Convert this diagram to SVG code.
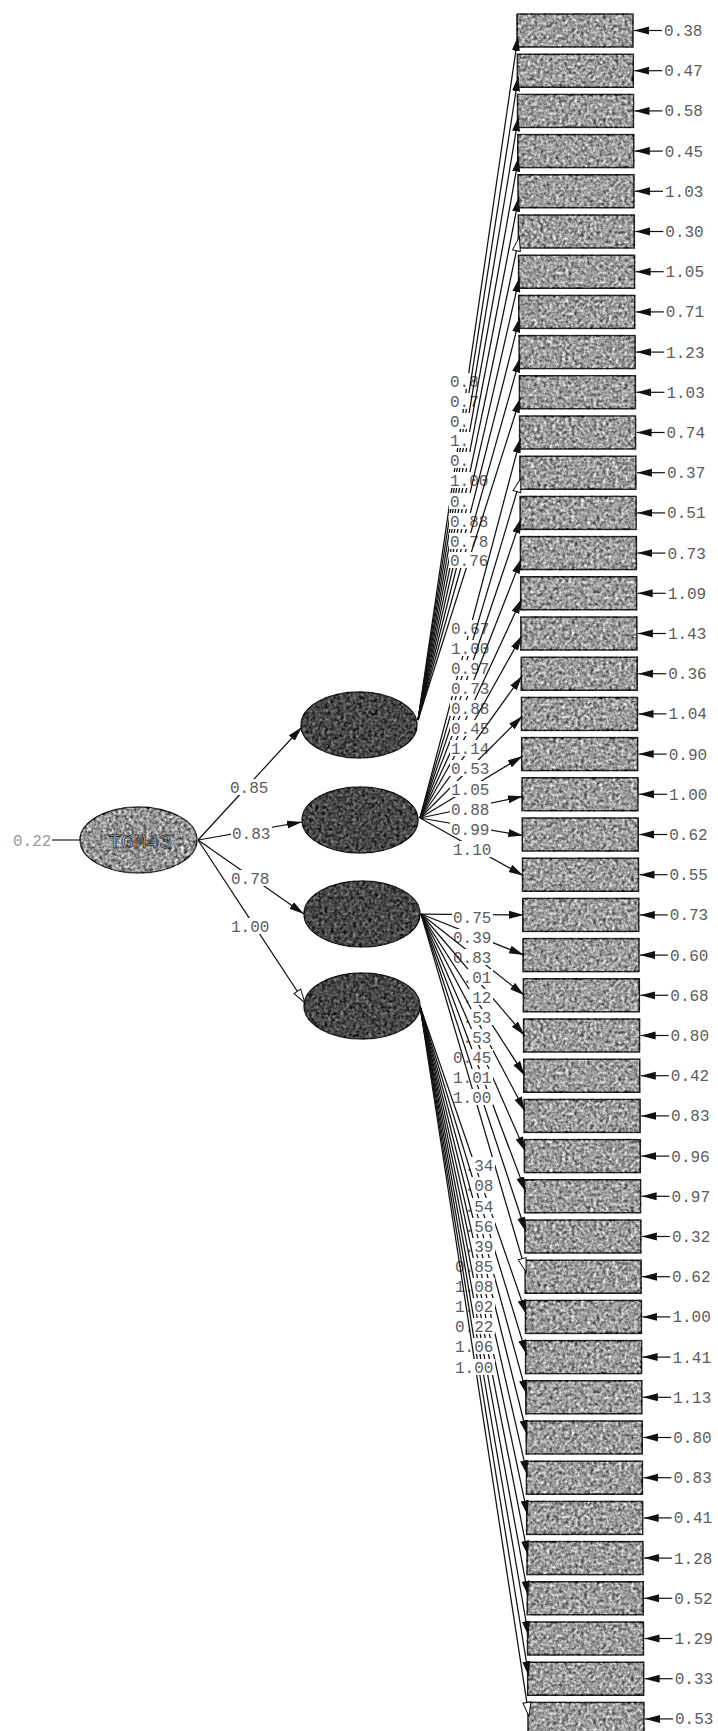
<svg xmlns="http://www.w3.org/2000/svg" width="718" height="1731" viewBox="0 0 718 1731">
<style>
.box{fill:#9c9c9c;stroke:#1e1e1e;stroke-width:1.6;filter:url(#grain)}
.lat{fill:#474747;stroke:#1a1a1a;stroke-width:1.5;filter:url(#grain)}
.top{fill:#959595;stroke:#2a2a2a;stroke-width:1.5;filter:url(#grain)}
.ln{stroke:#111;stroke-width:1.25;fill:none;marker-end:url(#ah)}
.lh{stroke:#111;stroke-width:1.25;fill:none;marker-end:url(#ahh)}
.er{stroke:#111;stroke-width:1.2;fill:none;marker-end:url(#ah)}
.bg{fill:#fff}
.lbl{font-family:"Liberation Mono",monospace;font-size:16px;fill:#5c5c5c}
.elbl{font-family:"Liberation Mono",monospace;font-size:16px;fill:#5c5c5c}
.tg{font-family:"Liberation Mono",monospace;font-size:21px;fill:#eeeeee;stroke:#2a2a2a;stroke-width:0.9;text-anchor:middle}
</style>
<defs>
<filter id="grain" x="-0.05" y="-0.1" width="1.1" height="1.2" color-interpolation-filters="sRGB">
<feTurbulence type="fractalNoise" baseFrequency="0.32" numOctaves="3" seed="4" result="n"/>
<feColorMatrix in="n" type="matrix" values="0.5 0.5 0 0 0 0.5 0.5 0 0 0 0.5 0.5 0 0 0 0 0 0 0 1" result="g"/>
<feComponentTransfer in="g" result="c"><feFuncR type="linear" slope="1.9" intercept="-0.45"/><feFuncG type="linear" slope="1.9" intercept="-0.45"/><feFuncB type="linear" slope="1.9" intercept="-0.45"/></feComponentTransfer>
<feBlend in="c" in2="SourceGraphic" mode="overlay" result="b"/>
<feComposite in="b" in2="SourceGraphic" operator="in"/>
</filter>
<marker id="ah" markerUnits="userSpaceOnUse" markerWidth="16" markerHeight="10" refX="15" refY="4.5" orient="auto"><path d="M0,0.5 L15,4.5 L0,8.5 z" fill="#111"/></marker>
<marker id="ahh" markerUnits="userSpaceOnUse" markerWidth="17" markerHeight="11" refX="15" refY="5" orient="auto"><path d="M1,1 L15,5 L1,9 z" fill="#fff" stroke="#111" stroke-width="1"/></marker>
</defs>

<g id="TGM43"><ellipse class="top" cx="138.5" cy="840" rx="58.5" ry="33"/><text class="tg" x="140" y="847.5">TGM43</text></g>
<g id="F1"><ellipse class="lat" cx="359" cy="725" rx="58" ry="33"/></g>
<g id="F2"><ellipse class="lat" cx="360" cy="820" rx="58" ry="33"/></g>
<g id="F3"><ellipse class="lat" cx="362" cy="914" rx="58" ry="33"/></g>
<g id="F4"><ellipse class="lat" cx="362" cy="1006" rx="58" ry="33"/></g>

<g id="x1"><rect class="box" x="517.0" y="14.0" width="116" height="33"/></g>
<g id="x2"><rect class="box" x="517.3" y="54.2" width="116" height="33"/></g>
<g id="x3"><rect class="box" x="517.5" y="94.4" width="116" height="33"/></g>
<g id="x4"><rect class="box" x="517.8" y="134.6" width="116" height="33"/></g>
<g id="x5"><rect class="box" x="518.0" y="174.8" width="116" height="33"/></g>
<g id="x6"><rect class="box" x="518.3" y="215.0" width="116" height="33"/></g>
<g id="x7"><rect class="box" x="518.6" y="255.2" width="116" height="33"/></g>
<g id="x8"><rect class="box" x="518.8" y="295.4" width="116" height="33"/></g>
<g id="x9"><rect class="box" x="519.1" y="335.6" width="116" height="33"/></g>
<g id="x10"><rect class="box" x="519.4" y="375.8" width="116" height="33"/></g>
<g id="x11"><rect class="box" x="519.6" y="416.0" width="116" height="33"/></g>
<g id="x12"><rect class="box" x="519.9" y="456.2" width="116" height="33"/></g>
<g id="x13"><rect class="box" x="520.1" y="496.4" width="116" height="33"/></g>
<g id="x14"><rect class="box" x="520.4" y="536.6" width="116" height="33"/></g>
<g id="x15"><rect class="box" x="520.7" y="576.8" width="116" height="33"/></g>
<g id="x16"><rect class="box" x="520.9" y="617.0" width="116" height="33"/></g>
<g id="x17"><rect class="box" x="521.2" y="657.2" width="116" height="33"/></g>
<g id="x18"><rect class="box" x="521.5" y="697.4" width="116" height="33"/></g>
<g id="x19"><rect class="box" x="521.7" y="737.6" width="116" height="33"/></g>
<g id="x20"><rect class="box" x="522.0" y="777.8" width="116" height="33"/></g>
<g id="x21"><rect class="box" x="522.2" y="818.0" width="116" height="33"/></g>
<g id="x22"><rect class="box" x="522.5" y="858.2" width="116" height="33"/></g>
<g id="x23"><rect class="box" x="522.8" y="898.4" width="116" height="33"/></g>
<g id="x24"><rect class="box" x="523.0" y="938.6" width="116" height="33"/></g>
<g id="x25"><rect class="box" x="523.3" y="978.8" width="116" height="33"/></g>
<g id="x26"><rect class="box" x="523.6" y="1019.0" width="116" height="33"/></g>
<g id="x27"><rect class="box" x="523.8" y="1059.2" width="116" height="33"/></g>
<g id="x28"><rect class="box" x="524.1" y="1099.4" width="116" height="33"/></g>
<g id="x29"><rect class="box" x="524.3" y="1139.6" width="116" height="33"/></g>
<g id="x30"><rect class="box" x="524.6" y="1179.8" width="116" height="33"/></g>
<g id="x31"><rect class="box" x="524.9" y="1220.0" width="116" height="33"/></g>
<g id="x32"><rect class="box" x="525.1" y="1260.2" width="116" height="33"/></g>
<g id="x33"><rect class="box" x="525.4" y="1300.4" width="116" height="33"/></g>
<g id="x34"><rect class="box" x="525.6" y="1340.6" width="116" height="33"/></g>
<g id="x35"><rect class="box" x="525.9" y="1380.8" width="116" height="33"/></g>
<g id="x36"><rect class="box" x="526.2" y="1421.0" width="116" height="33"/></g>
<g id="x37"><rect class="box" x="526.4" y="1461.2" width="116" height="33"/></g>
<g id="x38"><rect class="box" x="526.7" y="1501.4" width="116" height="33"/></g>
<g id="x39"><rect class="box" x="527.0" y="1541.6" width="116" height="33"/></g>
<g id="x40"><rect class="box" x="527.2" y="1581.8" width="116" height="33"/></g>
<g id="x41"><rect class="box" x="527.5" y="1622.0" width="116" height="33"/></g>
<g id="x42"><rect class="box" x="527.7" y="1662.2" width="116" height="33"/></g>
<g id="x43"><rect class="box" x="528.0" y="1702.4" width="116" height="33"/></g>

<g id="connectors">
<!-- second-order paths -->
<line x1="52" y1="840" x2="80" y2="840" stroke="#222" stroke-width="1.2"/>
<text x="13" y="845.5" style="font-family:'Liberation Mono',monospace;font-size:16px;fill:#999">0.22</text>
<line class="ln" x1="198" y1="840" x2="302" y2="727"/><rect class="bg" x="229" y="779" width="41" height="16"/><text class="lbl" x="230" y="792.5">0.85</text>
<line class="ln" x1="198" y1="840" x2="302" y2="822"/><rect class="bg" x="231" y="825" width="41" height="16"/><text class="lbl" x="232" y="838.5">0.83</text>
<line class="ln" x1="198" y1="840" x2="304" y2="914"/><rect class="bg" x="230" y="870" width="41" height="16"/><text class="lbl" x="231" y="883.5">0.78</text>
<line class="lh" x1="198" y1="840" x2="305" y2="1003"/><rect class="bg" x="230" y="918" width="41" height="16"/><text class="lbl" x="231" y="931.5">1.00</text>

<!-- factor 1 -->
<line class="ln" x1="418" y1="720" x2="518" y2="36"/><rect class="bg" x="449" y="373" width="41" height="16"/><text class="lbl" x="450" y="386.5">0.8</text>
<line class="ln" x1="418" y1="720" x2="518.3" y2="76.2"/><rect class="bg" x="449" y="393" width="41" height="16"/><text class="lbl" x="450" y="406.5">0.7</text>
<line class="ln" x1="418" y1="720" x2="518.5" y2="116.4"/><rect class="bg" x="449" y="413" width="41" height="16"/><text class="lbl" x="450" y="426.5">0.</text>
<line class="ln" x1="418" y1="720" x2="518.8" y2="156.6"/><rect class="bg" x="449" y="432" width="41" height="16"/><text class="lbl" x="450" y="445.5">1.</text>
<line class="ln" x1="418" y1="720" x2="519" y2="196.8"/><rect class="bg" x="449" y="452" width="41" height="16"/><text class="lbl" x="450" y="465.5">0.</text>
<line class="lh" x1="418" y1="720" x2="519.3" y2="237"/><rect class="bg" x="449" y="472" width="41" height="16"/><text class="lbl" x="450" y="485.5">1.00</text>
<line class="ln" x1="418" y1="720" x2="519.6" y2="277.2"/><rect class="bg" x="449" y="493" width="41" height="16"/><text class="lbl" x="450" y="506.5">0.</text>
<line class="ln" x1="418" y1="720" x2="519.8" y2="317.4"/><rect class="bg" x="449" y="513" width="41" height="16"/><text class="lbl" x="450" y="526.5">0.88</text>
<line class="ln" x1="418" y1="720" x2="520.1" y2="357.6"/><rect class="bg" x="449" y="533" width="41" height="16"/><text class="lbl" x="450" y="546.5">0.78</text>
<line class="ln" x1="418" y1="720" x2="520.4" y2="397.8"/><rect class="bg" x="449" y="552" width="41" height="16"/><text class="lbl" x="450" y="565.5">0.76</text>

<!-- factor 2 -->
<line class="ln" x1="420" y1="818" x2="520.6" y2="438"/><rect class="bg" x="450" y="620" width="41" height="16"/><text class="lbl" x="451" y="633.5">0.67</text>
<line class="lh" x1="420" y1="818" x2="520.9" y2="478.2"/><rect class="bg" x="450" y="640" width="41" height="16"/><text class="lbl" x="451" y="653.5">1.00</text>
<line class="ln" x1="420" y1="818" x2="521.1" y2="518.4"/><rect class="bg" x="450" y="660" width="41" height="16"/><text class="lbl" x="451" y="673.5">0.97</text>
<line class="ln" x1="420" y1="818" x2="521.4" y2="558.6"/><rect class="bg" x="450" y="680" width="41" height="16"/><text class="lbl" x="451" y="693.5">0.73</text>
<line class="ln" x1="420" y1="818" x2="521.7" y2="598.8"/><rect class="bg" x="450" y="700" width="41" height="16"/><text class="lbl" x="451" y="713.5">0.88</text>
<line class="ln" x1="420" y1="818" x2="521.9" y2="635.5"/><rect class="bg" x="450" y="720" width="41" height="16"/><text class="lbl" x="451" y="733.5">0.45</text>
<line class="ln" x1="420" y1="818" x2="522.2" y2="675.7"/><rect class="bg" x="450" y="740" width="41" height="16"/><text class="lbl" x="451" y="753.5">1.14</text>
<line class="ln" x1="420" y1="818" x2="522.5" y2="715.9"/><rect class="bg" x="450" y="760" width="41" height="16"/><text class="lbl" x="451" y="773.5">0.53</text>
<line class="ln" x1="420" y1="818" x2="522.7" y2="756.1"/><rect class="bg" x="450" y="781" width="41" height="16"/><text class="lbl" x="451" y="794.5">1.05</text>
<line class="ln" x1="420" y1="818" x2="523" y2="796.3"/><rect class="bg" x="450" y="801" width="41" height="16"/><text class="lbl" x="451" y="814.5">0.88</text>
<line class="ln" x1="420" y1="818" x2="523.2" y2="835.5"/><rect class="bg" x="450" y="821" width="41" height="16"/><text class="lbl" x="451" y="834.5">0.99</text>
<line class="ln" x1="420" y1="818" x2="523.5" y2="875.7"/><rect class="bg" x="452" y="841" width="41" height="16"/><text class="lbl" x="453" y="854.5">1.10</text>

<!-- factor 3 -->
<line class="ln" x1="421" y1="914" x2="523.8" y2="914.9"/><rect class="bg" x="452" y="909" width="41" height="16"/><text class="lbl" x="453" y="922.5">0.75</text>
<line class="ln" x1="421" y1="914" x2="524" y2="955.1"/><rect class="bg" x="452" y="929" width="41" height="16"/><text class="lbl" x="453" y="942.5">0.39</text>
<line class="ln" x1="421" y1="914" x2="524.3" y2="995.3"/><rect class="bg" x="452" y="949" width="41" height="16"/><text class="lbl" x="453" y="962.5">0.83</text>
<line class="ln" x1="421" y1="914" x2="524.6" y2="1035.5"/><rect class="bg" x="452" y="969" width="41" height="16"/><text class="lbl" x="462.6" y="982.5">.01</text>
<line class="ln" x1="421" y1="914" x2="524.8" y2="1075.7"/><rect class="bg" x="452" y="989" width="41" height="16"/><text class="lbl" x="462.6" y="1002.5">.12</text>
<line class="ln" x1="421" y1="914" x2="525.1" y2="1111.4"/><rect class="bg" x="452" y="1009" width="41" height="16"/><text class="lbl" x="462.6" y="1022.5">.53</text>
<line class="ln" x1="421" y1="914" x2="525.3" y2="1151.6"/><rect class="bg" x="452" y="1029" width="41" height="16"/><text class="lbl" x="462.6" y="1042.5">.53</text>
<line class="ln" x1="421" y1="914" x2="525.6" y2="1191.8"/><rect class="bg" x="452" y="1049" width="41" height="16"/><text class="lbl" x="453" y="1062.5">0.45</text>
<line class="ln" x1="421" y1="914" x2="525.9" y2="1232"/><rect class="bg" x="452" y="1069" width="41" height="16"/><text class="lbl" x="453" y="1082.5">1.01</text>
<line class="lh" x1="421" y1="914" x2="526.1" y2="1272.2"/><rect class="bg" x="452" y="1089" width="41" height="16"/><text class="lbl" x="453" y="1102.5">1.00</text>

<!-- factor 4 -->
<line class="ln" x1="420" y1="1006" x2="526.4" y2="1314.4"/><rect class="bg" x="454" y="1157" width="41" height="16"/><text class="lbl" x="464.6" y="1170.5">.34</text>
<line class="ln" x1="420" y1="1006" x2="526.6" y2="1354.6"/><rect class="bg" x="454" y="1177" width="41" height="16"/><text class="lbl" x="464.6" y="1190.5">.08</text>
<line class="ln" x1="420" y1="1006" x2="526.9" y2="1394.8"/><rect class="bg" x="454" y="1198" width="41" height="16"/><text class="lbl" x="464.6" y="1211.5">.54</text>
<line class="ln" x1="420" y1="1006" x2="527.2" y2="1435"/><rect class="bg" x="454" y="1218" width="41" height="16"/><text class="lbl" x="464.6" y="1231.5">.56</text>
<line class="ln" x1="420" y1="1006" x2="527.4" y2="1475.2"/><rect class="bg" x="454" y="1238" width="41" height="16"/><text class="lbl" x="464.6" y="1251.5">.39</text>
<line class="ln" x1="420" y1="1006" x2="527.7" y2="1515.4"/><rect class="bg" x="454" y="1258" width="41" height="16"/><text class="lbl" x="455" y="1271.5">0.85</text>
<line class="ln" x1="420" y1="1006" x2="528" y2="1555.6"/><rect class="bg" x="454" y="1278" width="41" height="16"/><text class="lbl" x="455" y="1291.5">1.08</text>
<line class="ln" x1="420" y1="1006" x2="528.2" y2="1595.8"/><rect class="bg" x="454" y="1298" width="41" height="16"/><text class="lbl" x="455" y="1311.5">1.02</text>
<line class="ln" x1="420" y1="1006" x2="528.5" y2="1636"/><rect class="bg" x="454" y="1318" width="41" height="16"/><text class="lbl" x="455" y="1331.5">0.22</text>
<line class="ln" x1="420" y1="1006" x2="528.7" y2="1676.2"/><rect class="bg" x="454" y="1338" width="41" height="16"/><text class="lbl" x="455" y="1351.5">1.06</text>
<line class="lh" x1="420" y1="1006" x2="529" y2="1716.4"/><rect class="bg" x="454" y="1359" width="41" height="16"/><text class="lbl" x="455" y="1372.5">1.00</text>

<!-- error terms -->
<line class="er" x1="662.0" y1="30.5" x2="634.0" y2="30.5"/><text class="elbl" x="664.0" y="36.0">0.38</text>
<line class="er" x1="662.3" y1="70.7" x2="634.3" y2="70.7"/><text class="elbl" x="664.3" y="76.2">0.47</text>
<line class="er" x1="662.5" y1="110.9" x2="634.5" y2="110.9"/><text class="elbl" x="664.5" y="116.4">0.58</text>
<line class="er" x1="662.8" y1="151.1" x2="634.8" y2="151.1"/><text class="elbl" x="664.8" y="156.6">0.45</text>
<line class="er" x1="663.0" y1="191.3" x2="635.0" y2="191.3"/><text class="elbl" x="665.0" y="196.8">1.03</text>
<line class="er" x1="663.3" y1="231.5" x2="635.3" y2="231.5"/><text class="elbl" x="665.3" y="237.0">0.30</text>
<line class="er" x1="663.6" y1="271.7" x2="635.6" y2="271.7"/><text class="elbl" x="665.6" y="277.2">1.05</text>
<line class="er" x1="663.8" y1="311.9" x2="635.8" y2="311.9"/><text class="elbl" x="665.8" y="317.4">0.71</text>
<line class="er" x1="664.1" y1="352.1" x2="636.1" y2="352.1"/><text class="elbl" x="666.1" y="357.6">1.23</text>
<line class="er" x1="664.4" y1="392.3" x2="636.4" y2="392.3"/><text class="elbl" x="666.4" y="397.8">1.03</text>
<line class="er" x1="664.6" y1="432.5" x2="636.6" y2="432.5"/><text class="elbl" x="666.6" y="438.0">0.74</text>
<line class="er" x1="664.9" y1="472.7" x2="636.9" y2="472.7"/><text class="elbl" x="666.9" y="478.2">0.37</text>
<line class="er" x1="665.1" y1="512.9" x2="637.1" y2="512.9"/><text class="elbl" x="667.1" y="518.4">0.51</text>
<line class="er" x1="665.4" y1="553.1" x2="637.4" y2="553.1"/><text class="elbl" x="667.4" y="558.6">0.73</text>
<line class="er" x1="665.7" y1="593.3" x2="637.7" y2="593.3"/><text class="elbl" x="667.7" y="598.8">1.09</text>
<line class="er" x1="665.9" y1="633.5" x2="637.9" y2="633.5"/><text class="elbl" x="667.9" y="639.0">1.43</text>
<line class="er" x1="666.2" y1="673.7" x2="638.2" y2="673.7"/><text class="elbl" x="668.2" y="679.2">0.36</text>
<line class="er" x1="666.5" y1="713.9" x2="638.5" y2="713.9"/><text class="elbl" x="668.5" y="719.4">1.04</text>
<line class="er" x1="666.7" y1="754.1" x2="638.7" y2="754.1"/><text class="elbl" x="668.7" y="759.6">0.90</text>
<line class="er" x1="667.0" y1="794.3" x2="639.0" y2="794.3"/><text class="elbl" x="669.0" y="799.8">1.00</text>
<line class="er" x1="667.2" y1="834.5" x2="639.2" y2="834.5"/><text class="elbl" x="669.2" y="840.0">0.62</text>
<line class="er" x1="667.5" y1="874.7" x2="639.5" y2="874.7"/><text class="elbl" x="669.5" y="880.2">0.55</text>
<line class="er" x1="667.8" y1="914.9" x2="639.8" y2="914.9"/><text class="elbl" x="669.8" y="920.4">0.73</text>
<line class="er" x1="668.0" y1="955.1" x2="640.0" y2="955.1"/><text class="elbl" x="670.0" y="960.6">0.60</text>
<line class="er" x1="668.3" y1="995.3" x2="640.3" y2="995.3"/><text class="elbl" x="670.3" y="1000.8">0.68</text>
<line class="er" x1="668.6" y1="1035.5" x2="640.6" y2="1035.5"/><text class="elbl" x="670.6" y="1041.0">0.80</text>
<line class="er" x1="668.8" y1="1075.7" x2="640.8" y2="1075.7"/><text class="elbl" x="670.8" y="1081.2">0.42</text>
<line class="er" x1="669.1" y1="1115.9" x2="641.1" y2="1115.9"/><text class="elbl" x="671.1" y="1121.4">0.83</text>
<line class="er" x1="669.3" y1="1156.1" x2="641.3" y2="1156.1"/><text class="elbl" x="671.3" y="1161.6">0.96</text>
<line class="er" x1="669.6" y1="1196.3" x2="641.6" y2="1196.3"/><text class="elbl" x="671.6" y="1201.8">0.97</text>
<line class="er" x1="669.9" y1="1236.5" x2="641.9" y2="1236.5"/><text class="elbl" x="671.9" y="1242.0">0.32</text>
<line class="er" x1="670.1" y1="1276.7" x2="642.1" y2="1276.7"/><text class="elbl" x="672.1" y="1282.2">0.62</text>
<line class="er" x1="670.4" y1="1316.9" x2="642.4" y2="1316.9"/><text class="elbl" x="672.4" y="1322.4">1.00</text>
<line class="er" x1="670.6" y1="1357.1" x2="642.6" y2="1357.1"/><text class="elbl" x="672.6" y="1362.6">1.41</text>
<line class="er" x1="670.9" y1="1397.3" x2="642.9" y2="1397.3"/><text class="elbl" x="672.9" y="1402.8">1.13</text>
<line class="er" x1="671.2" y1="1437.5" x2="643.2" y2="1437.5"/><text class="elbl" x="673.2" y="1443.0">0.80</text>
<line class="er" x1="671.4" y1="1477.7" x2="643.4" y2="1477.7"/><text class="elbl" x="673.4" y="1483.2">0.83</text>
<line class="er" x1="671.7" y1="1517.9" x2="643.7" y2="1517.9"/><text class="elbl" x="673.7" y="1523.4">0.41</text>
<line class="er" x1="672.0" y1="1558.1" x2="644.0" y2="1558.1"/><text class="elbl" x="674.0" y="1563.6">1.28</text>
<line class="er" x1="672.2" y1="1598.3" x2="644.2" y2="1598.3"/><text class="elbl" x="674.2" y="1603.8">0.52</text>
<line class="er" x1="672.5" y1="1638.5" x2="644.5" y2="1638.5"/><text class="elbl" x="674.5" y="1644.0">1.29</text>
<line class="er" x1="672.7" y1="1678.7" x2="644.7" y2="1678.7"/><text class="elbl" x="674.7" y="1684.2">0.33</text>
<line class="er" x1="673.0" y1="1718.9" x2="645.0" y2="1718.9"/><text class="elbl" x="675.0" y="1724.4">0.53</text>
</g>
</svg>
